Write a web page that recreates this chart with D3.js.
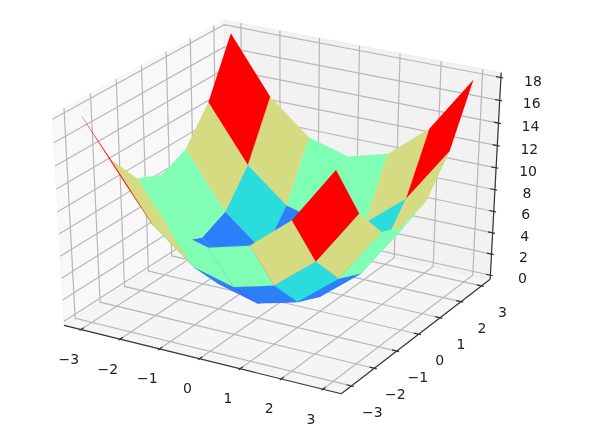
<!DOCTYPE html>
<html>
<head>
<meta charset="utf-8">
<script src="https://cdn.jsdelivr.net/npm/d3@7"></script>
<style>
  html, body { margin: 0; padding: 0; background: #fff; }
  svg { display: block; filter: blur(0.45px); }
  text { font-family: "DejaVu Sans", sans-serif; font-size: 14px; fill: #222; }
</style>
</head>
<body>
<svg id="chart" width="589" height="436"></svg>
<script>
const xValues = [-3, -2, -1, 0, 1, 2, 3];
const yValues = [-3, -2, -1, 0, 1, 2, 3];
// altura da superficie, linha = y, coluna = x
const zValues = [
  [18, 13, 10, 9, 10, 13, 18],
  [13, 8, 5, 4, 5, 8, 13],
  [10, 5, 2, 1, 2, 5, 10],
  [9, 4, 1, 0, 1, 4, 9],
  [10, 5, 2, 1, 2, 5, 10],
  [13, 8, 5, 4, 5, 8, 13],
  [18, 13, 10, 9, 10, 13, 18],
];
const xTicks = [-3, -2, -1, 0, 1, 2, 3];
const yTicks = [-3, -2, -1, 0, 1, 2, 3];
const zTicks = [0, 2, 4, 6, 8, 10, 12, 14, 16, 18];
const faceLevels = [1, 3, 5, 7, 9, 13];
const faceColors = ["#8000ff", "#2a80f8", "#2adcdc", "#80ffb4", "#d4db80", "#ff0000"];

const xLim = [-3.3, 3.3];
const yLim = [-3.3, 3.3];
const zLim = [0, 18.05];

const svg = d3.select("#chart");

// Escalas para o cubo unitario
const wx = d3.scaleLinear().domain(xLim).range([0, 1]);
const wy = d3.scaleLinear().domain(yLim).range([0, 1]);
const wz = d3.scaleLinear().domain(zLim).range([0, 1]);

// Escalas da vista para pixels
const px = d3.scaleLinear().domain([-0.095, 0.09]).range([-11.3, 557]);
const py = d3.scaleLinear().domain([-0.095, 0.09]).range([420, -8]);

const elev = (30 * Math.PI) / 180;
const azim = (-60 * Math.PI) / 180;
const dist = 10;
const n = [Math.cos(azim) * Math.cos(elev), Math.sin(azim) * Math.cos(elev), Math.sin(elev)];
const eye = n.map((d) => 0.5 + dist * d);
const uLen = Math.hypot(n[1], n[0]);
const u = [-n[1] / uLen, n[0] / uLen, 0];
const v = [n[1] * u[2] - n[2] * u[1], n[2] * u[0] - n[0] * u[2], n[0] * u[1] - n[1] * u[0]];

function view(x, y, z) {
  const p = [wx(x) - eye[0], wy(y) - eye[1], wz(z) - eye[2]];
  const dot = (a) => a[0] * p[0] + a[1] * p[1] + a[2] * p[2];
  const w = -dot(n);
  return { sx: dot(u) / w, sy: dot(v) / w, depth: w };
}
function project(p) {
  const t = view(p[0], p[1], p[2]);
  return [px(t.sx), py(t.sy)];
}

const line = d3.line();
const closed = (pts) => line(pts.map(project)) + "Z";

const padX = (xLim[1] - xLim[0]) / 48;
const padY = (yLim[1] - yLim[0]) / 48;
const padZ = (zLim[1] - zLim[0]) / 48;
const x0 = xLim[0] - padX, x1 = xLim[1] + padX;
const y0 = yLim[0] - padY, y1 = yLim[1] + padY;
const z0 = zLim[0] - padZ, z1 = zLim[1] + padZ;

// Paineis do fundo
const panes = [
  { pts: [[x0, y0, z0], [x0, y1, z0], [x0, y1, z1], [x0, y0, z1]], c: "rgba(242,242,242,0.5)" },
  { pts: [[x0, y1, z0], [x1, y1, z0], [x1, y1, z1], [x0, y1, z1]], c: "rgba(230,230,230,0.5)" },
  { pts: [[x0, y0, z0], [x1, y0, z0], [x1, y1, z0], [x0, y1, z0]], c: "rgba(236,236,236,0.5)" },
];
svg.append("g").selectAll("path").data(panes).enter().append("path")
  .attr("d", (d) => closed(d.pts))
  .attr("fill", (d) => d.c)
  .attr("stroke", (d) => d.c)
  .attr("stroke-width", 1);

// Grade
const gridLines = [
  ...xTicks.map((t) => [[t, y0, z0], [t, y1, z0], [t, y1, z1]]),
  ...yTicks.map((t) => [[x1, t, z0], [x0, t, z0], [x0, t, z1]]),
  ...zTicks.map((t) => [[x0, y0, t], [x0, y1, t], [x1, y1, t]]),
];
svg.append("g").selectAll("path").data(gridLines).enter().append("path")
  .attr("d", (d) => line(d.map(project)))
  .attr("fill", "none")
  .attr("stroke", "#b8b8b8")
  .attr("stroke-width", 1.2);

// Eixos
const axisLines = [
  [[x0, y0, z0], [x1, y0, z0]],
  [[x1, y0, z0], [x1, y1, z0]],
  [[x1, y1, z0], [x1, y1, z1]],
];
svg.append("g").selectAll("path").data(axisLines).enter().append("path")
  .attr("d", (d) => line(d.map(project)))
  .attr("fill", "none")
  .attr("stroke", "#333")
  .attr("stroke-width", 1.2);

const dy = (y1 - y0) / 12;
const dx = (x1 - x0) / 12;
const tickLines = [
  ...xTicks.map((t) => [[t, y0 - 0.1 * dy, z0], [t, y0 + 0.2 * dy, z0]]),
  ...yTicks.map((t) => [[x1 + 0.1 * dx, t, z0], [x1 - 0.2 * dx, t, z0]]),
  ...zTicks.map((t) => [[x1 + 0.1 * dx, y1, t], [x1 - 0.2 * dx, y1, t]]),
];
svg.append("g").selectAll("path").data(tickLines).enter().append("path")
  .attr("d", (d) => line(d.map(project)))
  .attr("fill", "none")
  .attr("stroke", "#333")
  .attr("stroke-width", 1.2);

const fmt = (t) => (t < 0 ? "\u2212" + -t : "" + t);
const labels = [
  ...xTicks.map((t) => ({ t, p: project([t, y0, z0]), ox: -12, oy: 29.5 })),
  ...yTicks.map((t) => ({ t, p: project([x1, t, z0]), ox: 21, oy: 26 })),
  ...zTicks.map((t) => ({ t, p: project([x1, y1, t]), ox: 32, oy: 3 })),
];
svg.append("g").selectAll("text").data(labels).enter().append("text")
  .attr("x", (d) => d.p[0] + d.ox)
  .attr("y", (d) => d.p[1] + d.oy)
  .attr("text-anchor", "middle")
  .attr("dominant-baseline", "central")
  .text((d) => fmt(d.t));

// Faces da superficie: media de z define a cor, 1/w define a ordem (como o mplot3d)
const color = d3.scaleOrdinal().domain(faceLevels).range(faceColors);
const faces = [];
for (let j = 0; j < yValues.length - 1; j++) {
  for (let i = 0; i < xValues.length - 1; i++) {
    const pts = [
      [xValues[i], yValues[j], zValues[j][i]],
      [xValues[i + 1], yValues[j], zValues[j][i + 1]],
      [xValues[i + 1], yValues[j + 1], zValues[j + 1][i + 1]],
      [xValues[i], yValues[j + 1], zValues[j + 1][i]],
    ];
    faces.push({
      pts,
      level: d3.mean(pts, (p) => p[2]),
      depth: d3.mean(pts, (p) => 1 / view(p[0], p[1], p[2]).depth),
    });
  }
}
faces.sort((a, b) => d3.ascending(a.depth, b.depth));

svg.append("g").selectAll("path").data(faces).enter().append("path")
  .attr("d", (d) => closed(d.pts))
  .attr("fill", (d) => color(d.level))
  .attr("stroke", (d) => color(d.level))
  .attr("stroke-width", 0.2)
  .attr("stroke-linejoin", "round");
</script>
</body>
</html>
